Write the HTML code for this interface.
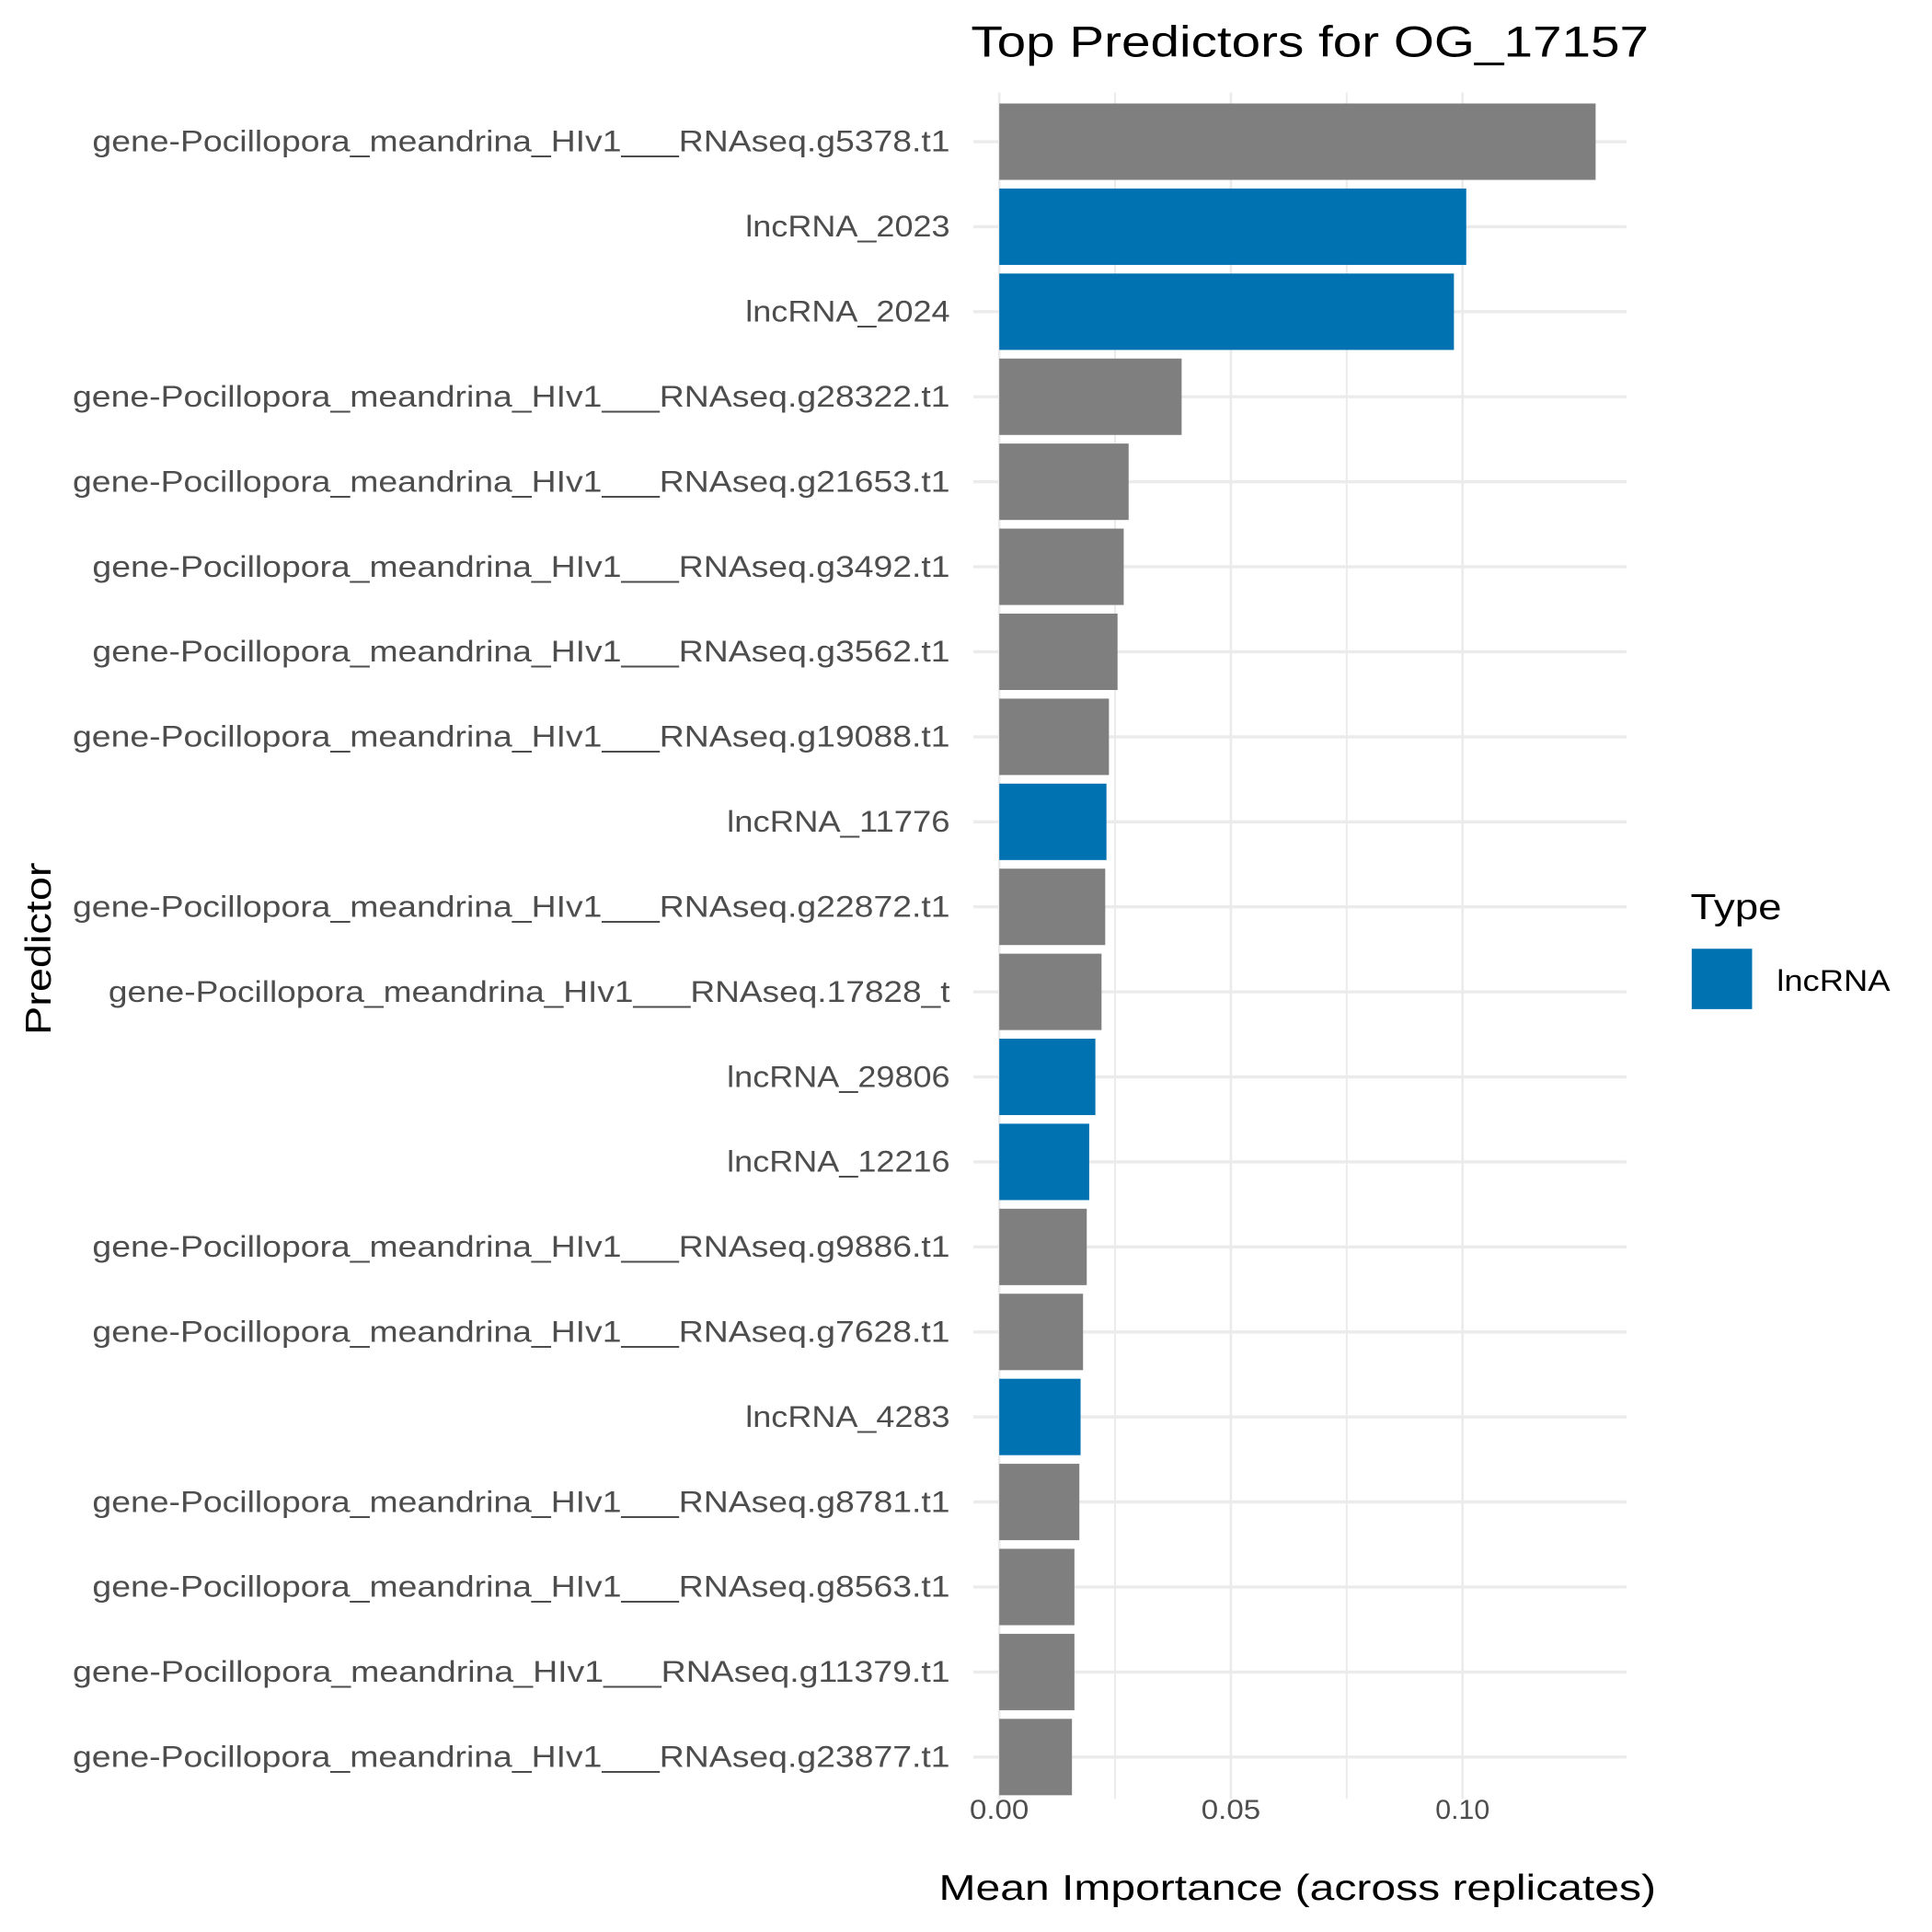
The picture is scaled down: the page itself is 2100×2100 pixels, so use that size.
<!DOCTYPE html>
<html><head><meta charset="utf-8"><style>html,body{margin:0;padding:0;background:#fff}svg{display:block}</style></head>
<body>
<svg width="2100" height="2100" viewBox="0 0 1568 1568" xmlns="http://www.w3.org/2000/svg" font-family="Liberation Sans, DejaVu Sans, sans-serif">
<rect width="1568" height="1568" fill="#fff"/>
<g stroke="#ebebeb" stroke-width="2">
<line x1="905" y1="75" x2="905" y2="1460" stroke-width="1.5"/>
<line x1="1093" y1="75" x2="1093" y2="1460" stroke-width="1.5"/>
<line x1="811" y1="75" x2="811" y2="1460"/>
<line x1="999" y1="75" x2="999" y2="1460"/>
<line x1="1187" y1="75" x2="1187" y2="1460"/>
</g>
<g stroke="#ebebeb" stroke-width="2.5" id="hg"></g>
<g id="bars"></g>
<g id="labels" fill="#4d4d4d" font-size="24" text-anchor="end"></g>
<g fill="#4d4d4d" font-size="22" text-anchor="middle">
<text x="811" y="1476" textLength="48" lengthAdjust="spacingAndGlyphs">0.00</text>
<text x="999" y="1476" textLength="48" lengthAdjust="spacingAndGlyphs">0.05</text>
<text x="1187" y="1476" textLength="44" lengthAdjust="spacingAndGlyphs">0.10</text>
</g>
<text x="1053" y="1542" font-size="29" text-anchor="middle" textLength="582" lengthAdjust="spacingAndGlyphs">Mean Importance (across replicates)</text>
<text x="1063" y="46" font-size="35" text-anchor="middle" textLength="550" lengthAdjust="spacingAndGlyphs">Top Predictors for OG_17157</text>
<text transform="translate(41,770) rotate(-90)" font-size="29" text-anchor="middle" textLength="140" lengthAdjust="spacingAndGlyphs">Predictor</text>
<text x="1372" y="746" font-size="29" textLength="74" lengthAdjust="spacingAndGlyphs">Type</text>
<rect x="1373" y="770" width="49" height="49" fill="#0072b2"/>
<text x="1442" y="804" font-size="24" textLength="92" lengthAdjust="spacingAndGlyphs">lncRNA</text>
<script>
var rows=[
["gene-Pocillopora_meandrina_HIv1___RNAseq.g5378.t1",1295,0,75],
["lncRNA_2023",1190,1,605],
["lncRNA_2024",1180,1,605],
["gene-Pocillopora_meandrina_HIv1___RNAseq.g28322.t1",959,0,59],
["gene-Pocillopora_meandrina_HIv1___RNAseq.g21653.t1",916,0,59],
["gene-Pocillopora_meandrina_HIv1___RNAseq.g3492.t1",912,0,75],
["gene-Pocillopora_meandrina_HIv1___RNAseq.g3562.t1",907,0,75],
["gene-Pocillopora_meandrina_HIv1___RNAseq.g19088.t1",900,0,59],
["lncRNA_11776",898,1,590],
["gene-Pocillopora_meandrina_HIv1___RNAseq.g22872.t1",897,0,59],
["gene-Pocillopora_meandrina_HIv1___RNAseq.17828_t",894,0,88],
["lncRNA_29806",889,1,590],
["lncRNA_12216",884,1,590],
["gene-Pocillopora_meandrina_HIv1___RNAseq.g9886.t1",882,0,75],
["gene-Pocillopora_meandrina_HIv1___RNAseq.g7628.t1",879,0,75],
["lncRNA_4283",877,1,605],
["gene-Pocillopora_meandrina_HIv1___RNAseq.g8781.t1",876,0,75],
["gene-Pocillopora_meandrina_HIv1___RNAseq.g8563.t1",872,0,75],
["gene-Pocillopora_meandrina_HIv1___RNAseq.g11379.t1",872,0,59],
["gene-Pocillopora_meandrina_HIv1___RNAseq.g23877.t1",870,0,59]];
var NS="http://www.w3.org/2000/svg";
var hg=document.getElementById("hg"),bars=document.getElementById("bars"),lab=document.getElementById("labels");
rows.forEach(function(r,i){
 var c=115+69*i;
 var l=document.createElementNS(NS,"line");l.setAttribute("x1",790);l.setAttribute("x2",1320);l.setAttribute("y1",c);l.setAttribute("y2",c);hg.appendChild(l);
 var b=document.createElementNS(NS,"rect");b.setAttribute("x",811);b.setAttribute("y",c-31);b.setAttribute("width",r[1]-811);b.setAttribute("height",62);b.setAttribute("fill",r[2]?"#0072b2":"#7f7f7f");bars.appendChild(b);
 var t=document.createElementNS(NS,"text");t.setAttribute("x",771);t.setAttribute("y",c+8);t.setAttribute("textLength",771-r[3]);t.setAttribute("lengthAdjust","spacingAndGlyphs");t.textContent=r[0];lab.appendChild(t);
});
</script>
</svg>
</body></html>
